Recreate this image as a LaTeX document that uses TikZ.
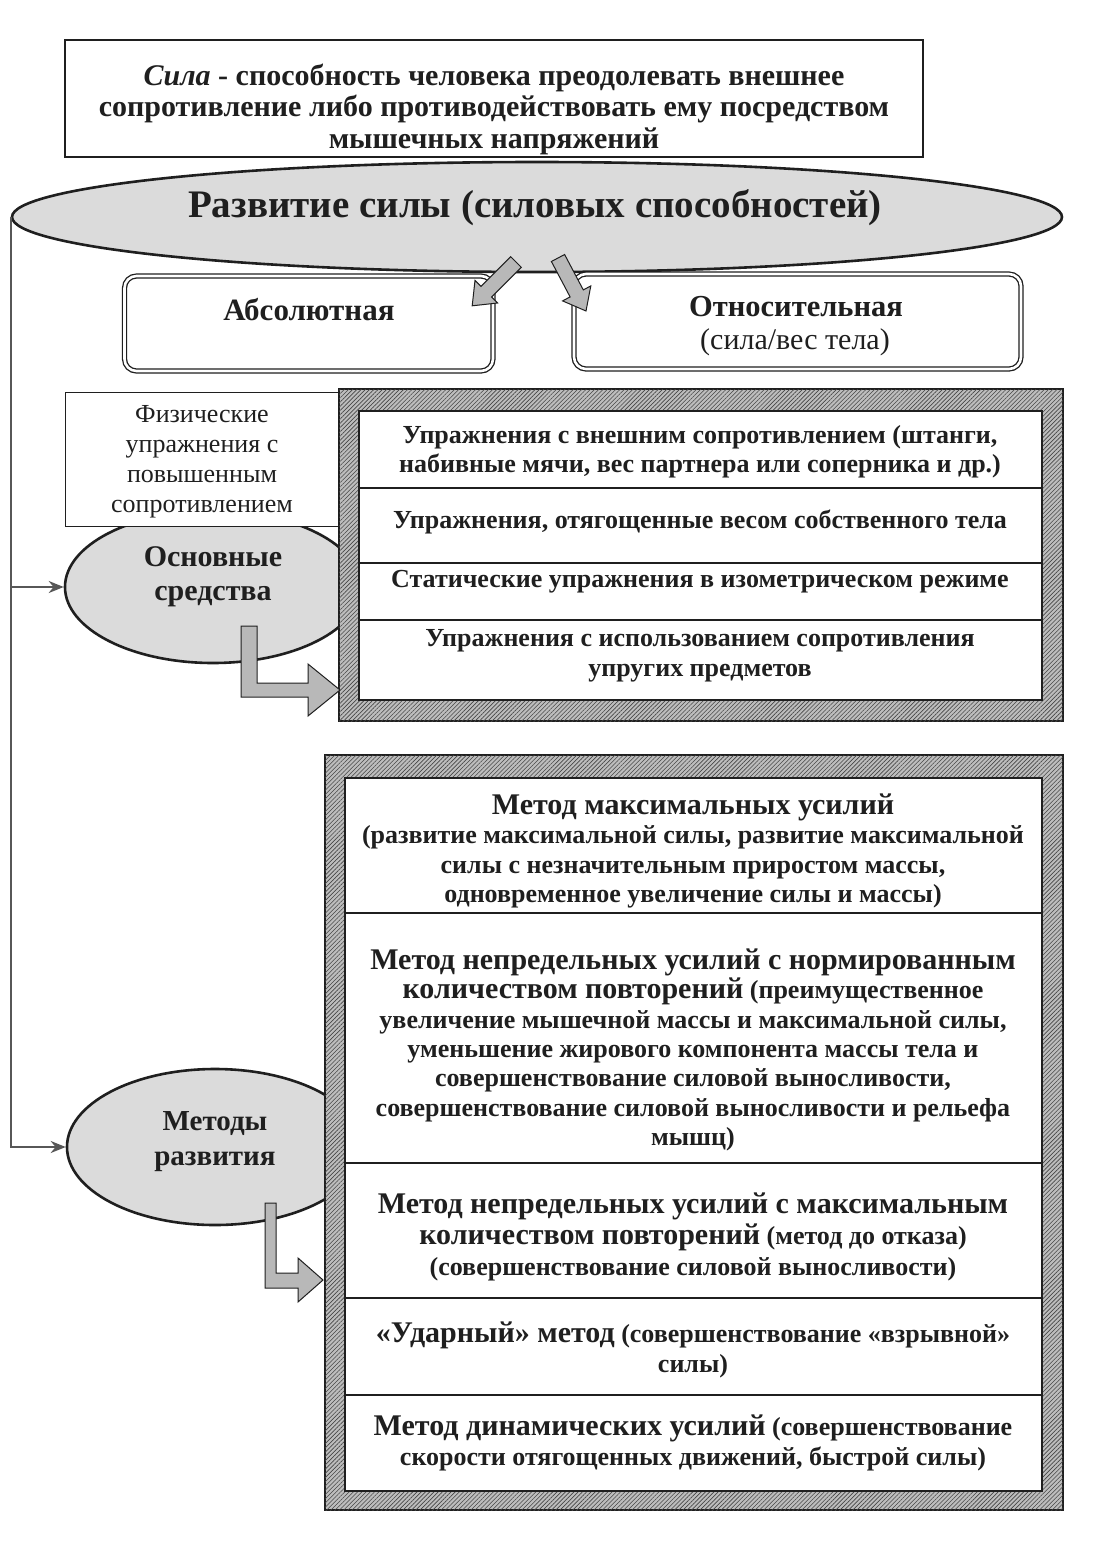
\documentclass[tikz,border=0pt]{standalone}
\usepackage{fontspec}
\setmainfont{Liberation Serif}
\usetikzlibrary{shapes.geometric,arrows.meta,patterns.meta}
\definecolor{framegray}{gray}{0.74}
\definecolor{ellgray}{gray}{0.86}
\definecolor{arrgray}{gray}{0.72}
\definecolor{ink}{gray}{0.12}
\newcommand{\fsz}[2]{\fontsize{#1}{#2}\selectfont}
\tikzset{
  framebox/.style={draw=ink, line width=1.2pt, fill=framegray,
    postaction={pattern={Lines[angle=45,distance=3pt,line width=0.6pt]}, pattern color=gray!55!black}},
  innerbox/.style={draw=ink, line width=1.2pt, fill=white},
  sepline/.style={draw=ink, line width=1.2pt},
  ell/.style={ellipse, draw=ink, line width=2.6pt, fill=ellgray, inner sep=0pt},
  blockarrow/.style={draw=ink, line width=1pt, fill=arrgray},
  dblbox/.style={draw=ink, double=white, double distance=2.6pt, line width=1.3pt, rounded corners=12pt},
  conn/.style={draw=ink!75, line width=2.2pt, -{Stealth[length=15pt,width=12pt]}},
  txt/.style={align=center, inner sep=0pt, text=ink, font=\bfseries},
}
\begin{document}
\begin{tikzpicture}[x=1pt,y=-1pt]
\useasboundingbox (0,0) rectangle (1093,1561);
\fill[white] (0,0) rectangle (1093,1561);

% definition box
\draw[ink, line width=1.2pt, fill=white] (65,40) rectangle (923,157);
\node[txt, font=\bfseries\fsz{30}{31.5}] (deftext) at (494,109)
  {{\itshape Сила} - способность человека преодолевать внешнее\\сопротивление либо противодействовать ему посредством\\мышечных напряжений};

% main ellipse
\node[ell, minimum width=1050pt, minimum height=110pt] (dev) at (537,217) {};
\node[txt, font=\bfseries\fsz{39}{44}] (devtext) at (535,208) {Развитие силы (силовых способностей)};

% absolute / relative boxes
\draw[dblbox] (124.5,276) rectangle (493,371);
\draw[dblbox] (574,274) rectangle (1021,369);
\node[txt, font=\bfseries\fsz{31}{34}] (abs) at (309,310) {Абсолютная};
\node[txt, font=\bfseries\fsz{30.5}{34}] (rel) at (796,307) {Относительная};
\node[txt, font=\mdseries\fsz{30}{34}] (relsub) at (795,342) {(сила/вес тела)};

% block arrows from the ellipse
\draw[blockarrow] (521.3,267.3) -- (491.6,297) -- (497.6,303) -- (472.2,305.8) -- (475,280.4) -- (481,286.4) -- (510.7,256.7) -- cycle;
\draw[blockarrow] (564.6,254.5) -- (583.3,289.9) -- (590.8,285.9) -- (586,311) -- (562.6,300.9) -- (570.1,296.9) -- (551.4,261.5) -- cycle;

% Основные средства
\node[ell, minimum width=296pt, minimum height=152pt] (osn) at (213,587) {};

% upper frame
\draw[framebox] (339,389) rectangle (1063,721);
\draw[innerbox] (359,411) rectangle (1042,700);
\draw[sepline] (359,488) -- (1042,488);
\draw[sepline] (359,563) -- (1042,563);
\draw[sepline] (359,620) -- (1042,620);
\node[txt, font=\bfseries\fsz{26}{29}] (u1) at (700,452) {Упражнения с внешним сопротивлением (штанги,\\набивные мячи, вес партнера или соперника и др.)};
\node[txt, font=\bfseries\fsz{26}{29}] (u2) at (700,522) {Упражнения, отягощенные весом собственного тела};
\node[txt, font=\bfseries\fsz{26}{29}] (u3) at (700,582) {Статические упражнения в изометрическом режиме};
\node[txt, font=\bfseries\fsz{26}{30}] (u4) at (700,656) {Упражнения с использованием сопротивления\\упругих предметов};

% physical exercises box
\draw[ink, line width=1pt, fill=white] (65,392) rectangle (338,526);
\node[txt, font=\mdseries\fsz{26}{30}] (phys) at (202,462) {Физические\\упражнения с\\повышенным\\сопротивлением};
\node[txt, font=\bfseries\fsz{30}{34}] (osntext) at (213,577) {Основные\\средства};

% Методы развития
\node[ell, minimum width=296pt, minimum height=156pt] (met) at (215,1147) {};

% lower frame
\draw[framebox] (325,755) rectangle (1063,1510);
\draw[innerbox] (345,778) rectangle (1042,1491);
\draw[sepline] (345,913) -- (1042,913);
\draw[sepline] (345,1163) -- (1042,1163);
\draw[sepline] (345,1298) -- (1042,1298);
\draw[sepline] (345,1395) -- (1042,1395);
\node[txt, font=\bfseries\fsz{26}{29.5}] (m1) at (693,851) {{\fsz{30}{29.5}Метод максимальных усилий}\\(развитие максимальной силы, развитие максимальной\\силы с незначительным приростом массы,\\одновременное увеличение силы и массы)};
\node[txt, font=\bfseries\fsz{26}{29.3}] (m2) at (693,1050) {{\fsz{30}{29.3}Метод непредельных усилий с нормированным}\\{\fsz{30}{29.3}количеством повторений} (преимущественное\\увеличение мышечной массы и максимальной силы,\\уменьшение жирового компонента массы тела и\\совершенствование силовой выносливости,\\совершенствование силовой выносливости и рельефа\\мышц)};
\node[txt, font=\bfseries\fsz{26}{31}] (m3) at (693,1237) {{\fsz{30}{31}Метод непредельных усилий с максимальным}\\{\fsz{30}{31}количеством повторений} (метод до отказа)\\(совершенствование силовой выносливости)};
\node[txt, font=\bfseries\fsz{26}{30}] (m4) at (693,1350) {{\fsz{30}{30}«Ударный» метод} (совершенствование «взрывной»\\силы)};
\node[txt, font=\bfseries\fsz{26}{30}] (m5) at (693,1443) {{\fsz{30}{30}Метод динамических усилий} (совершенствование\\скорости отягощенных движений, быстрой силы)};

\node[txt, font=\bfseries\fsz{29}{35}] (mettext) at (215,1142) {Методы\\развития};

% L-shaped block arrows
\draw[blockarrow] (241,626) -- (257,626) -- (257,683) -- (308,683) -- (308,664) -- (340,690) -- (308,716) -- (308,697) -- (241,697) -- cycle;
\draw[blockarrow] (265,1203) -- (276,1203) -- (276,1273) -- (298,1273) -- (298,1258) -- (323,1280) -- (298,1302) -- (298,1288) -- (265,1288) -- cycle;

% connectors
\draw[conn] (dev.west) |- (osn.west);
\draw[conn] (dev.west) |- (met.west);
\end{tikzpicture}
\end{document}
